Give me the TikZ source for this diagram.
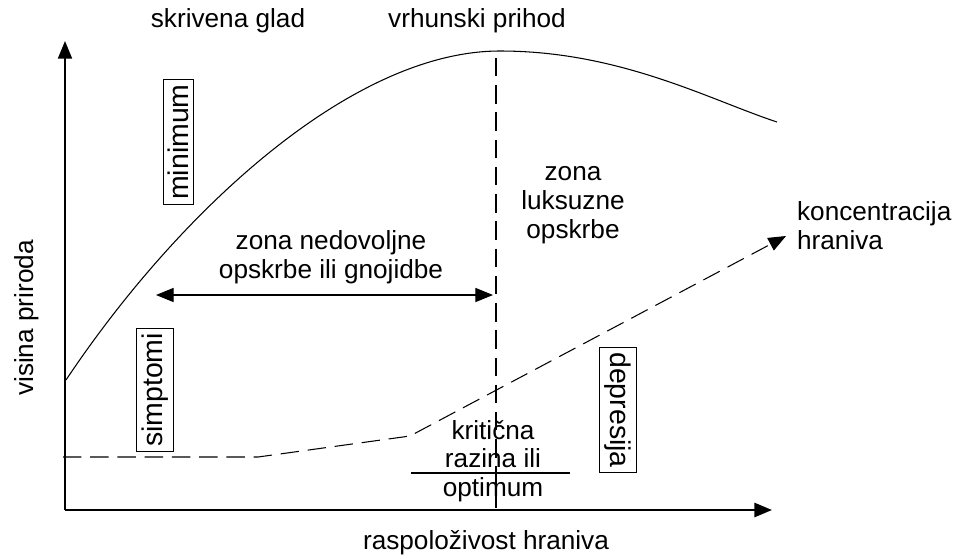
\documentclass[tikz,border=0pt]{standalone}
\usepackage{fontspec}
\setmainfont{Liberation Sans}
\usetikzlibrary{arrows.meta}

\tikzset{
    lbl/.style={font=\fontsize{14.9}{16.4}\selectfont, inner sep=1pt},
    zone/.style={lbl, align=center},
    tag/.style={font=\fontsize{16.2}{18}\selectfont, draw, line width=0.5pt, inner sep=2.8pt},
    tip/.style={-{Triangle[length=10pt,width=8pt]}},
    dashline/.style={dash pattern=on 10.5pt off 5pt, line width=0.6pt}
}

\begin{document}
\begin{tikzpicture}[x=0.02cm, y=-0.02cm]
        \useasboundingbox (0,0) rectangle (973,558);

        % osi
        \coordinate (o) at (65,510);
        \coordinate (ytop) at (65,41);
        \coordinate (xend) at (772,510);
        \draw[tip, line width=0.9pt] (o) -- (ytop);
        \draw[tip, line width=1.4pt] (o) -- (xend);

        \node[lbl, rotate=90] (ylab) at (27,318) {visina priroda};
        \node[lbl] (xlab) at (486,543) {raspoloživost hraniva};

        % krivulja prihoda
        \coordinate (c0) at (66,380);
        \coordinate (peak) at (500,51);
        \coordinate (c1) at (777,122);
        \draw[line width=0.6pt] (c0) .. controls (176,215) and (350,51) .. (peak)
            .. controls (620,51) and (710,100) .. (c1);

        % koncentracija hraniva
        \coordinate (d0) at (63,457);
        \coordinate (d1) at (258,457);
        \coordinate (d2) at (410,436);
        \coordinate (d3) at (786,236);
        \draw[dashline, tip] (d0) -- (d1) -- (d2) -- (d3);

        % optimum
        \coordinate (vtop) at (496,58);
        \coordinate (vbot) at (496,508);
        \draw[dashline] (vtop) -- (vbot);

        \coordinate (za) at (156,295);
        \coordinate (zb) at (493,295);
        \draw[{Triangle[length=10pt,width=8pt]}-{Triangle[length=10pt,width=8pt]}, line width=0.6pt] (za) -- (zb);

        \coordinate (ka) at (411,473);
        \coordinate (kb) at (570,473);
        \draw[line width=0.9pt] (ka) -- (kb);

        % tekstovi
        \node[lbl] (glad) at (228,21) {skrivena glad};
        \node[lbl] (prihod) at (477,21) {vrhunski prihod};
        \node[zone] (nedov) at (331,257) {zona nedovoljne\\opskrbe ili gnojidbe};
        \node[zone] (luks) at (573,205) {zona\\luksuzne\\opskrbe};
        \node[lbl, align=left, anchor=west] (konc) at (795,226) {koncentracija\\hraniva};
        \node[zone] (krit) at (493,461) {kritična\\razina ili\\optimum};

        \node[tag, rotate=90] (mini) at (178.5,142) {minimum};
        \node[tag, rotate=90] (simpt) at (155,390) {simptomi};
        \node[tag, rotate=-90] (depr) at (618,410) {depresija};

    \end{tikzpicture}
\end{document}
